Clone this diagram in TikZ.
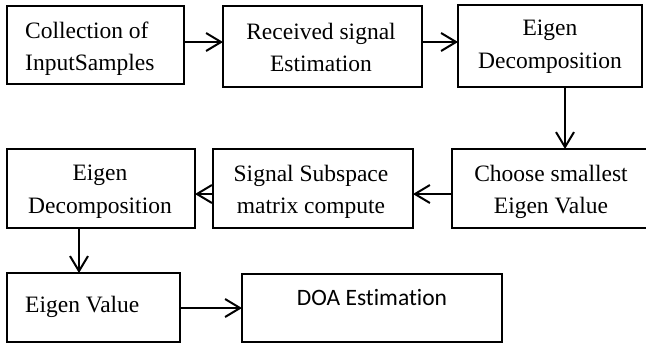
\documentclass[tikz,border=0pt]{standalone}
\usepackage{fontspec}
\setmainfont{Liberation Serif}
\newfontfamily\calibri[Ligatures=NoCommon]{Carlito}
\usetikzlibrary{arrows.meta}
\begin{document}
\begin{tikzpicture}[x=1pt,y=-1pt,
  box/.style={draw, line width=1.5pt, inner sep=0pt, outer sep=0pt},
  txt/.style={font=\fontsize{23.5}{32.5}\selectfont, inner sep=0pt, align=center},
  arr/.style={line width=2pt, -{Straight Barb[length=15pt,width=18pt,line width=2pt]}}]
\useasboundingbox (0,0) rectangle (646,343);
% boxes
\node[box, minimum width=177pt, minimum height=78pt] (b1) at (95.5,45) {};
\node[box, minimum width=199pt, minimum height=81pt] (b2) at (322.5,46.5) {};
\node[box, minimum width=184pt, minimum height=82pt] (b3) at (550,46) {};
\node[box, minimum width=198pt, minimum height=79pt] (b4) at (551,188.5) {};
\node[box, minimum width=200pt, minimum height=79pt] (b5) at (313,188.5) {};
\node[box, minimum width=188pt, minimum height=79pt] (b6) at (101,188.5) {};
\node[box, minimum width=173pt, minimum height=69pt] (b7) at (93.5,307.5) {};
\node[box, minimum width=260pt, minimum height=68pt] (b8) at (372,308) {};
% texts
\node[txt, align=left, anchor=west] (t1) at (25,48.5) {Collection of\\InputSamples};
\node[txt] (t2) at (321,47.5) {Received signal\\Estimation};
\node[txt] (t3) at (550,46.5) {Eigen\\Decomposition};
\node[txt] (t4) at (551,192) {Choose smallest\\Eigen Value};
\node[txt] (t5) at (311,192) {Signal Subspace\\matrix compute};
\node[txt] (t6) at (100,191.5) {Eigen\\Decomposition};
\node[txt, anchor=base west] (t7) at (25,312) {Eigen Value};
\node[txt, font=\calibri\fontsize{23.5}{28}\selectfont, anchor=base] (t8) at (372,305) {DOA Estimation};
% connectors
\draw[arr] ([yshift=3pt]b1.east) -- ([yshift=3pt]b1.east -| b2.west);
\draw[arr] ([yshift=4.5pt]b2.east) -- ([yshift=4.5pt]b2.east -| b3.west);
\draw[arr] ([xshift=15pt]b3.south) -- ([xshift=15pt]b3.south |- b4.north);
\draw[arr] ([yshift=-5.5pt]b4.west) -- ([yshift=-5.5pt]b4.west -| b5.east);
\draw[arr] ([yshift=-5.5pt]b5.west) -- ([yshift=-5.5pt]b5.west -| b6.east);
\draw[arr] ([xshift=-22pt]b6.south) -- ([xshift=-22pt]b6.south |- b7.north);
\draw[arr] ([yshift=-0.5pt]b7.east) -- ([yshift=-0.5pt]b7.east -| b8.west);
\end{tikzpicture}
\end{document}
